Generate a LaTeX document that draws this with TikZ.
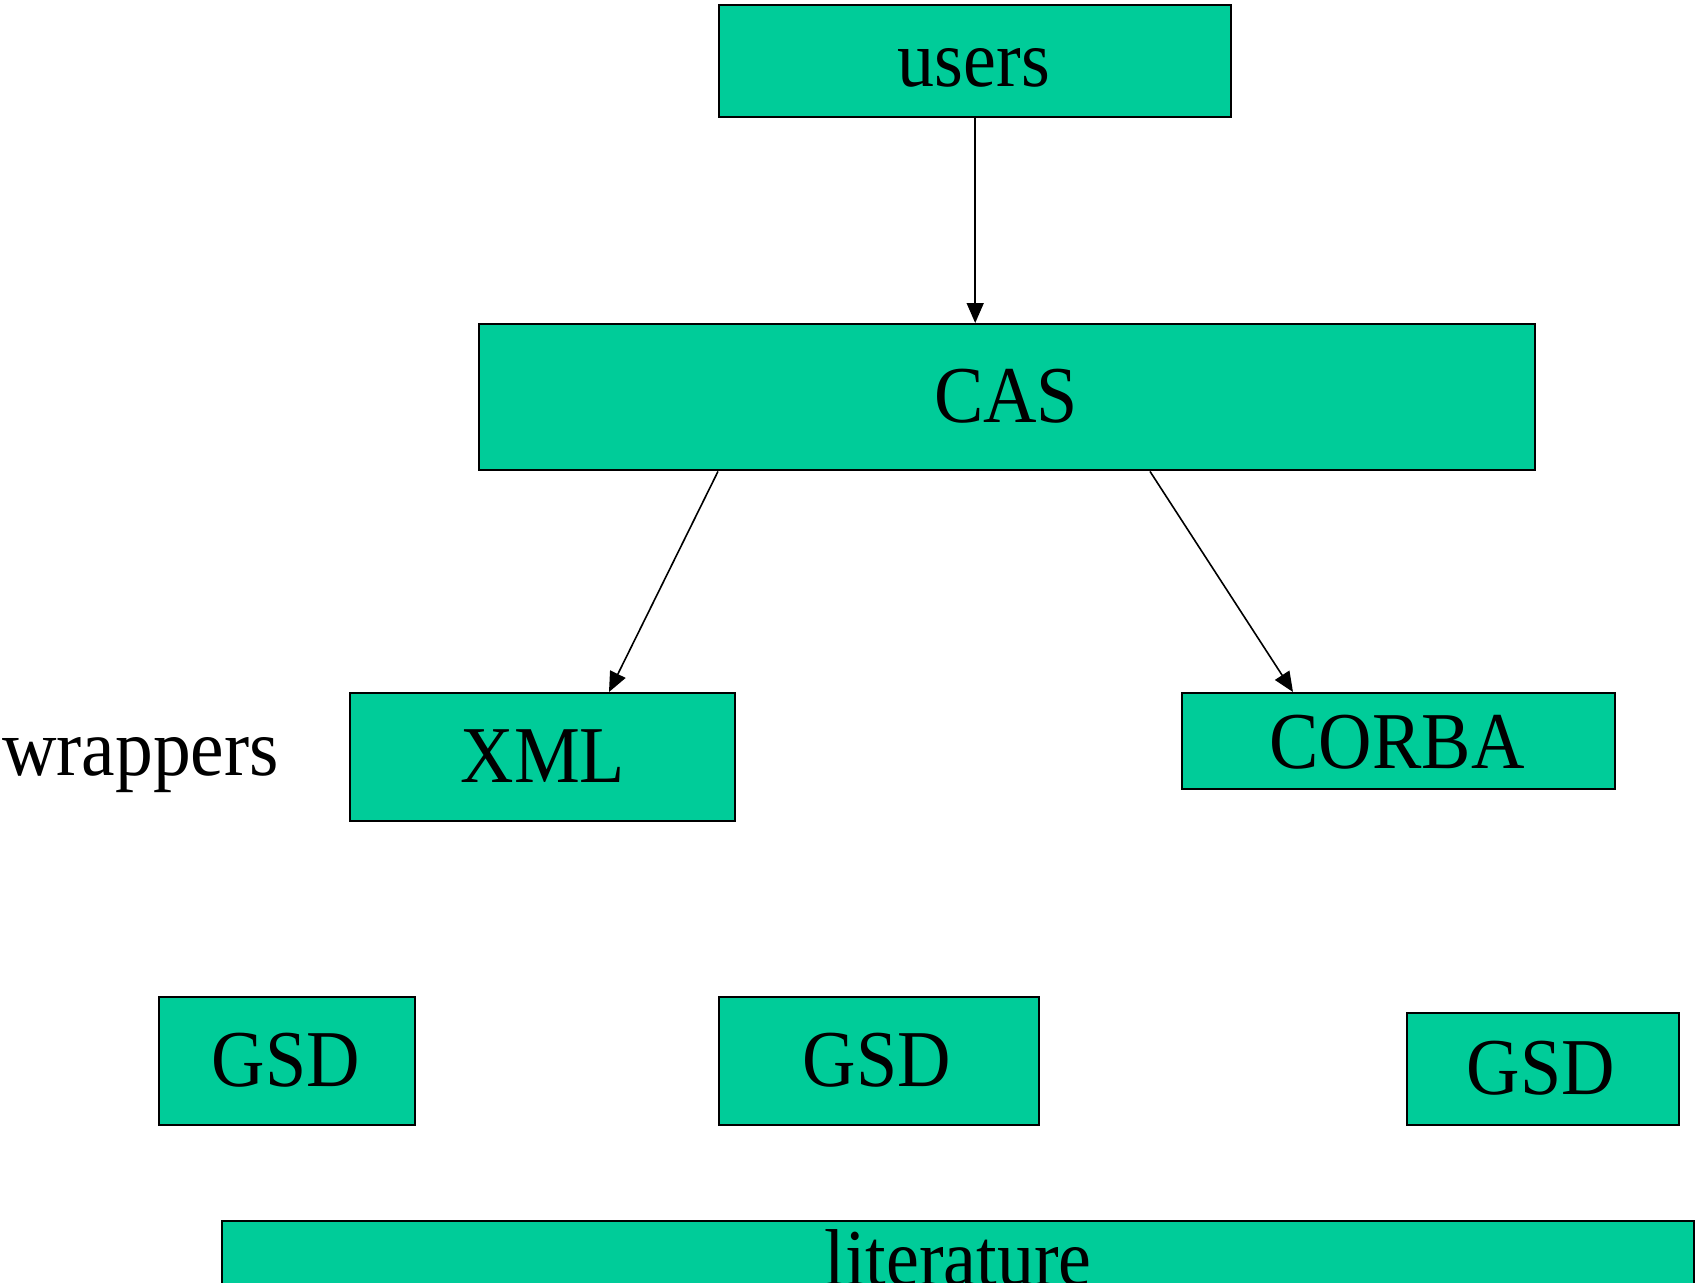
\documentclass[tikz,border=0pt]{standalone}
\usepackage{fontspec}
\setmainfont{Liberation Serif}
\usetikzlibrary{arrows.meta}
\definecolor{boxgreen}{HTML}{00CC99}
\tikzset{
  box/.style={draw=black, fill=boxgreen, line width=2.4pt, inner sep=0pt, anchor=north west},
  lbl/.style={inner sep=0pt, anchor=base, font=\fontsize{74}{80}\selectfont},
  conn/.style={line width=1.6pt, -{Triangle[length=20pt,width=17pt]}}
}
\newcommand{\stx}[1]{\scalebox{1}[1.09]{#1}}
\begin{document}
\begin{tikzpicture}[x=1pt,y=-1pt]
\useasboundingbox (0,0) rectangle (1701,1283);
\clip (0,0) rectangle (1701,1283);
% boxes
\node[box, minimum width=512pt, minimum height=112pt] (users) at (718,4) {};
\node[box, minimum width=1056pt, minimum height=146pt] (cas) at (478,323) {};
\node[box, minimum width=385pt, minimum height=128pt] (xml) at (349,692) {};
\node[box, minimum width=433pt, minimum height=96pt] (corba) at (1181,692) {};
\node[box, minimum width=256pt, minimum height=128pt] (gsda) at (158,996) {};
\node[box, minimum width=320pt, minimum height=128pt] (gsdb) at (718,996) {};
\node[box, minimum width=272pt, minimum height=112pt] (gsdc) at (1406,1012) {};
\node[box, minimum width=1472pt, minimum height=120pt] (lit) at (221,1220) {};
% labels
\node[lbl] (usersT) at (974,86) {\stx{users}};
\node[lbl] (casT) at (1006,422) {\stx{CAS}};
\node[lbl] (xmlT) at (543,782) {\stx{XML}};
\node[lbl] (corbaT) at (1397,768) {\stx{CORBA}};
\node[lbl, anchor=base west] (wrap) at (2,775) {\scalebox{1.02}[1.09]{wrappers}};
\node[lbl] (gsdaT) at (286,1086) {\stx{GSD}};
\node[lbl] (gsdbT) at (877,1086) {\stx{GSD}};
\node[lbl] (gsdcT) at (1541,1094) {\stx{GSD}};
\node[lbl] (litT) at (958,1285) {\stx{literature}};
% connectors
\draw[conn] (users.south) -- (users.south |- cas.north);
\draw[conn] ([xshift=240pt]cas.south west) -- ([xshift=260pt]xml.north west);
\draw[conn] ([xshift=672pt]cas.south west) -- ([xshift=112pt]corba.north west);
\end{tikzpicture}
\end{document}
